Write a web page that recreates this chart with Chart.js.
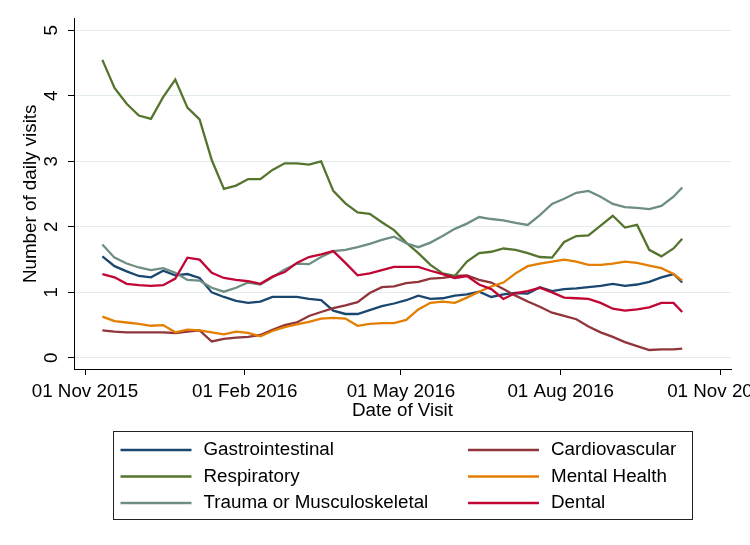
<!DOCTYPE html>
<html>
<head>
<meta charset="utf-8">
<script src="https://cdn.jsdelivr.net/npm/chart.js@4.4.1/dist/chart.umd.min.js"></script>
<style>
  html, body { margin: 0; padding: 0; background: #fff; overflow: hidden; }
  #wrap { position: relative; width: 750px; height: 545px; }
</style>
</head>
<body>
<div id="wrap"><canvas id="visitsChart"></canvas></div>
<script>
// x values = days since 01 Nov 2015 (weekly readings of the moving average)
const days = [10, 17, 24, 31, 38, 45, 52, 59, 66, 73, 80, 87, 94, 101, 108, 115, 122, 129, 136, 143,
  150, 157, 164, 171, 178, 185, 192, 199, 206, 213, 220, 227, 234, 241, 248, 255, 262, 269, 276, 283,
  290, 297, 304, 311, 318, 325, 332, 339, 344];

const gastro = [1.55, 1.40, 1.32, 1.25, 1.23, 1.33, 1.26, 1.28, 1.22, 1.00, 0.93, 0.87, 0.84, 0.86, 0.93, 0.93, 0.93, 0.90, 0.88, 0.72,
  0.67, 0.67, 0.73, 0.79, 0.83, 0.88, 0.95, 0.90, 0.91, 0.95, 0.97, 1.01, 0.93, 0.97, 0.99, 0.98, 1.08, 1.02, 1.05, 1.06,
  1.08, 1.10, 1.13, 1.10, 1.12, 1.16, 1.23, 1.28, 1.15];
const cardio = [0.42, 0.40, 0.39, 0.39, 0.39, 0.39, 0.38, 0.40, 0.42, 0.25, 0.29, 0.31, 0.32, 0.35, 0.43, 0.50, 0.54, 0.64, 0.70, 0.76,
  0.80, 0.85, 0.99, 1.08, 1.09, 1.14, 1.16, 1.21, 1.22, 1.25, 1.26, 1.19, 1.15, 1.05, 0.95, 0.86, 0.78, 0.69, 0.64, 0.59,
  0.48, 0.39, 0.32, 0.24, 0.18, 0.12, 0.13, 0.13, 0.14];
const respiratory = [4.55, 4.12, 3.88, 3.70, 3.65, 3.98, 4.25, 3.82, 3.64, 3.02, 2.58, 2.63, 2.73, 2.73, 2.87, 2.97, 2.97, 2.95, 3.00, 2.55,
  2.36, 2.22, 2.20, 2.07, 1.95, 1.76, 1.60, 1.42, 1.29, 1.25, 1.47, 1.60, 1.62, 1.67, 1.65, 1.60, 1.54, 1.53, 1.77, 1.86,
  1.87, 2.02, 2.17, 1.99, 2.03, 1.65, 1.55, 1.67, 1.82];
const mental = [0.63, 0.56, 0.54, 0.52, 0.49, 0.50, 0.39, 0.43, 0.42, 0.39, 0.36, 0.40, 0.38, 0.33, 0.41, 0.47, 0.51, 0.55, 0.60, 0.61,
  0.60, 0.49, 0.52, 0.53, 0.53, 0.58, 0.74, 0.84, 0.86, 0.84, 0.92, 1.01, 1.09, 1.15, 1.29, 1.40, 1.44, 1.47, 1.50, 1.47,
  1.42, 1.42, 1.44, 1.47, 1.45, 1.41, 1.37, 1.28, 1.18];
const trauma = [1.73, 1.53, 1.44, 1.38, 1.34, 1.37, 1.30, 1.19, 1.18, 1.07, 1.01, 1.07, 1.15, 1.12, 1.23, 1.35, 1.44, 1.43, 1.54, 1.63,
  1.65, 1.69, 1.74, 1.80, 1.85, 1.75, 1.69, 1.76, 1.86, 1.97, 2.05, 2.15, 2.12, 2.10, 2.06, 2.03, 2.18, 2.35, 2.43, 2.52,
  2.55, 2.46, 2.35, 2.30, 2.29, 2.27, 2.32, 2.46, 2.60];
const dental = [1.28, 1.23, 1.13, 1.11, 1.10, 1.11, 1.21, 1.53, 1.50, 1.30, 1.22, 1.19, 1.17, 1.13, 1.24, 1.31, 1.45, 1.54, 1.58, 1.63,
  1.45, 1.26, 1.29, 1.34, 1.39, 1.39, 1.39, 1.33, 1.28, 1.22, 1.25, 1.12, 1.05, 0.90, 0.99, 1.02, 1.07, 1.00, 0.92, 0.91,
  0.90, 0.84, 0.75, 0.72, 0.74, 0.77, 0.84, 0.84, 0.70];

const seriesNames = ["Gastrointestinal", "Cardiovascular", "Respiratory", "Mental Health", "Trauma or Musculoskeletal", "Dental"];
const seriesValues = [gastro, cardio, respiratory, mental, trauma, dental];
const seriesColors = ["#1a476f", "#90353b", "#55752f", "#e37e00", "#6e8e84", "#c10534"];

const tickDays = [0, 92, 182, 274, 366];
const tickLabels = ["01 Nov 2015", "01 Feb 2016", "01 May 2016", "01 Aug 2016", "01 Nov 2016"];
const yTicks = [0, 1, 2, 3, 4, 5];

Chart.defaults.font.family = "'Liberation Sans', Arial, sans-serif";
Chart.defaults.font.size = 18.8;
Chart.defaults.color = "#000";

// legend in a box, two columns, like the stata one
const boxLegend = {
  id: "boxLegend",
  afterDraw(chart) {
    const ctx = chart.ctx;
    const area = chart.chartArea;
    const left = Math.round(area.left + 39);
    const right = Math.round(area.right - 39);
    const top = Math.round(area.bottom + 62);
    const bottom = top + 88;
    ctx.save();
    ctx.strokeStyle = "#222";
    ctx.lineWidth = 1;
    ctx.strokeRect(left + 0.5, top + 0.5, right - left, bottom - top);
    ctx.font = "18.8px 'Liberation Sans', Arial, sans-serif";
    ctx.textBaseline = "middle";
    ctx.fillStyle = "#000";
    chart.data.datasets.forEach((ds, i) => {
      const col = i % 2;
      const row = Math.floor(i / 2);
      const x = left + 7.5 + col * 347.5;
      const y = top + 19 + row * 26.5;
      ctx.strokeStyle = ds.borderColor;
      ctx.lineWidth = 2.3;
      ctx.beginPath();
      ctx.moveTo(x, y);
      ctx.lineTo(x + 71, y);
      ctx.stroke();
      ctx.fillText(ds.label, x + 83, y);
    });
    ctx.restore();
  }
};

const ctx = document.getElementById("visitsChart").getContext("2d");
new Chart(ctx, {
  type: "line",
  data: {
    datasets: seriesNames.map((name, i) => ({
      label: name,
      data: days.map((d, j) => ({ x: d, y: seriesValues[i][j] })),
      borderColor: seriesColors[i],
      backgroundColor: seriesColors[i],
      borderWidth: 2.3,
      pointRadius: 0,
      tension: 0,
      fill: false,
      order: seriesNames.length - i
    }))
  },
  options: {
    responsive: true,
    maintainAspectRatio: false,
    animation: false,
    layout: { padding: { top: 18.6, right: 19, bottom: 120, left: 0 } },
    plugins: {
      legend: { display: false },
      tooltip: { enabled: false }
    },
    scales: {
      x: {
        type: "linear",
        min: -6.34,
        max: 372.1,
        afterBuildTicks: (s) => { s.ticks = tickDays.map(v => ({ value: v })); },
        afterFit: (s) => { s.height = 56; s.paddingLeft = 0; s.paddingRight = 0; },
        ticks: {
          autoSkip: false,
          maxRotation: 0,
          minRotation: 0,
          padding: 6,
          callback: (v, i) => tickLabels[i]
        },
        grid: { display: true, drawOnChartArea: false, drawTicks: true, tickLength: 6, tickColor: "#000", color: "#000" },
        border: { display: true, color: "#000", width: 1 },
        title: { display: true, text: "Date of Visit", padding: { top: 0, bottom: 3 } }
      },
      y: {
        min: -0.17,
        max: 5.18,
        afterBuildTicks: (s) => { s.ticks = yTicks.map(v => ({ value: v })); },
        afterFit: (s) => { s.width = 74; s.paddingTop = 0; s.paddingBottom = 0; },
        ticks: { minRotation: 90, maxRotation: 90, crossAlign: "center", padding: 11 },
        grid: { color: "#e2ebee", lineWidth: 1, drawTicks: true, tickLength: 6, tickColor: "#000" },
        border: { display: true, color: "#000", width: 1 },
        title: { display: true, text: "Number of daily visits", padding: { top: 20, bottom: 0 } }
      }
    }
  },
  plugins: [boxLegend]
});
</script>
</body>
</html>
